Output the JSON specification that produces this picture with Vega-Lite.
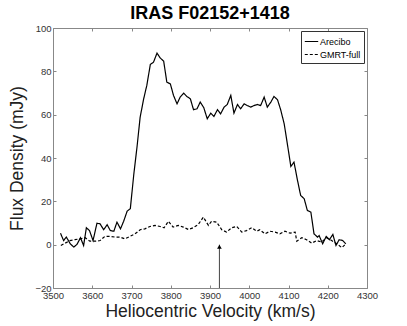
{
  "$schema": "https://vega.github.io/schema/vega-lite/v6.json",
  "autosize": {"type": "none"},
  "padding": {"left": 53, "top": 28, "right": 40, "bottom": 38},
  "width": 314,
  "height": 260,
  "title": {"text": "IRAS F02152+1418", "font": "Liberation Sans", "fontSize": 18, "fontWeight": "bold", "color": "#000", "anchor": "middle", "offset": 0},
  "config": {
    "view": {"stroke": null},
    "axis": {"grid": false, "domainColor": "#888", "tickColor": "#888", "labelColor": "#333", "labelFont": "Liberation Sans", "labelFontSize": 9.5, "titleFont": "Liberation Sans", "titleFontWeight": "normal", "titleColor": "#222", "titleFontSize": 17.5, "tickSize": -3, "domainWidth": 1, "tickWidth": 1, "labelFlush": false}
  },
  "datasets": {
    "spec": [
      {"v": 3519, "flux": 5.3, "src": "Arecibo"},
      {"v": 3527, "flux": 1.9, "src": "Arecibo"},
      {"v": 3534, "flux": 3.5, "src": "Arecibo"},
      {"v": 3544, "flux": 0.4, "src": "Arecibo"},
      {"v": 3553, "flux": -1.1, "src": "Arecibo"},
      {"v": 3561, "flux": 0.1, "src": "Arecibo"},
      {"v": 3570, "flux": 3.2, "src": "Arecibo"},
      {"v": 3578, "flux": -0.4, "src": "Arecibo"},
      {"v": 3585, "flux": 7.8, "src": "Arecibo"},
      {"v": 3593, "flux": 6.5, "src": "Arecibo"},
      {"v": 3602, "flux": 1.9, "src": "Arecibo"},
      {"v": 3612, "flux": 9.9, "src": "Arecibo"},
      {"v": 3620, "flux": 9.6, "src": "Arecibo"},
      {"v": 3629, "flux": 6.9, "src": "Arecibo"},
      {"v": 3638, "flux": 9.2, "src": "Arecibo"},
      {"v": 3646, "flux": 6.5, "src": "Arecibo"},
      {"v": 3655, "flux": 6.2, "src": "Arecibo"},
      {"v": 3663, "flux": 10.4, "src": "Arecibo"},
      {"v": 3672, "flux": 7.3, "src": "Arecibo"},
      {"v": 3680, "flux": 10.8, "src": "Arecibo"},
      {"v": 3689, "flux": 15.5, "src": "Arecibo"},
      {"v": 3697, "flux": 16.6, "src": "Arecibo"},
      {"v": 3706, "flux": 32.7, "src": "Arecibo"},
      {"v": 3714, "flux": 45, "src": "Arecibo"},
      {"v": 3722, "flux": 58.8, "src": "Arecibo"},
      {"v": 3731, "flux": 67.3, "src": "Arecibo"},
      {"v": 3739, "flux": 73.5, "src": "Arecibo"},
      {"v": 3748, "flux": 83.2, "src": "Arecibo"},
      {"v": 3756, "flux": 84.2, "src": "Arecibo"},
      {"v": 3765, "flux": 88.4, "src": "Arecibo"},
      {"v": 3773, "flux": 86.2, "src": "Arecibo"},
      {"v": 3782, "flux": 84.7, "src": "Arecibo"},
      {"v": 3790, "flux": 75, "src": "Arecibo"},
      {"v": 3799, "flux": 74.2, "src": "Arecibo"},
      {"v": 3807, "flux": 68.9, "src": "Arecibo"},
      {"v": 3816, "flux": 65, "src": "Arecibo"},
      {"v": 3824, "flux": 68.1, "src": "Arecibo"},
      {"v": 3833, "flux": 69.9, "src": "Arecibo"},
      {"v": 3841, "flux": 68.4, "src": "Arecibo"},
      {"v": 3850, "flux": 67.3, "src": "Arecibo"},
      {"v": 3858, "flux": 62.3, "src": "Arecibo"},
      {"v": 3867, "flux": 62.7, "src": "Arecibo"},
      {"v": 3875, "flux": 65.8, "src": "Arecibo"},
      {"v": 3884, "flux": 63.3, "src": "Arecibo"},
      {"v": 3893, "flux": 58.1, "src": "Arecibo"},
      {"v": 3902, "flux": 60.7, "src": "Arecibo"},
      {"v": 3910, "flux": 59.2, "src": "Arecibo"},
      {"v": 3919, "flux": 62.3, "src": "Arecibo"},
      {"v": 3927, "flux": 60.4, "src": "Arecibo"},
      {"v": 3936, "flux": 63.5, "src": "Arecibo"},
      {"v": 3944, "flux": 64.7, "src": "Arecibo"},
      {"v": 3953, "flux": 68.9, "src": "Arecibo"},
      {"v": 3961, "flux": 60.7, "src": "Arecibo"},
      {"v": 3970, "flux": 64.7, "src": "Arecibo"},
      {"v": 3978, "flux": 62.7, "src": "Arecibo"},
      {"v": 3987, "flux": 65, "src": "Arecibo"},
      {"v": 3995, "flux": 64.2, "src": "Arecibo"},
      {"v": 4004, "flux": 63.5, "src": "Arecibo"},
      {"v": 4012, "flux": 64.2, "src": "Arecibo"},
      {"v": 4021, "flux": 64.7, "src": "Arecibo"},
      {"v": 4029, "flux": 64.2, "src": "Arecibo"},
      {"v": 4038, "flux": 68.1, "src": "Arecibo"},
      {"v": 4046, "flux": 63.5, "src": "Arecibo"},
      {"v": 4055, "flux": 65.8, "src": "Arecibo"},
      {"v": 4063, "flux": 68.4, "src": "Arecibo"},
      {"v": 4072, "flux": 66.9, "src": "Arecibo"},
      {"v": 4080, "flux": 62.3, "src": "Arecibo"},
      {"v": 4089, "flux": 55.8, "src": "Arecibo"},
      {"v": 4097, "flux": 46.6, "src": "Arecibo"},
      {"v": 4106, "flux": 36.1, "src": "Arecibo"},
      {"v": 4114, "flux": 38.1, "src": "Arecibo"},
      {"v": 4123, "flux": 29.6, "src": "Arecibo"},
      {"v": 4131, "flux": 22.7, "src": "Arecibo"},
      {"v": 4140, "flux": 21.2, "src": "Arecibo"},
      {"v": 4148, "flux": 15.8, "src": "Arecibo"},
      {"v": 4157, "flux": 15, "src": "Arecibo"},
      {"v": 4165, "flux": 5, "src": "Arecibo"},
      {"v": 4174, "flux": 3.5, "src": "Arecibo"},
      {"v": 4178, "flux": 4.2, "src": "Arecibo"},
      {"v": 4187, "flux": 0.4, "src": "Arecibo"},
      {"v": 4196, "flux": 3.8, "src": "Arecibo"},
      {"v": 4204, "flux": 2.3, "src": "Arecibo"},
      {"v": 4213, "flux": 4.7, "src": "Arecibo"},
      {"v": 4221, "flux": -0.4, "src": "Arecibo"},
      {"v": 4229, "flux": 2.3, "src": "Arecibo"},
      {"v": 4238, "flux": 1.9, "src": "Arecibo"},
      {"v": 4246, "flux": 0.4, "src": "Arecibo"},
      {"v": 3520, "flux": -0.4, "src": "GMRT-full"},
      {"v": 3531, "flux": 0.7, "src": "GMRT-full"},
      {"v": 3543, "flux": 1.9, "src": "GMRT-full"},
      {"v": 3556, "flux": 2.3, "src": "GMRT-full"},
      {"v": 3569, "flux": 2.7, "src": "GMRT-full"},
      {"v": 3582, "flux": 3.2, "src": "GMRT-full"},
      {"v": 3594, "flux": 1.6, "src": "GMRT-full"},
      {"v": 3607, "flux": 1.6, "src": "GMRT-full"},
      {"v": 3620, "flux": 1.9, "src": "GMRT-full"},
      {"v": 3632, "flux": 3.8, "src": "GMRT-full"},
      {"v": 3645, "flux": 3.8, "src": "GMRT-full"},
      {"v": 3658, "flux": 3.5, "src": "GMRT-full"},
      {"v": 3671, "flux": 3.5, "src": "GMRT-full"},
      {"v": 3683, "flux": 2.7, "src": "GMRT-full"},
      {"v": 3696, "flux": 3.8, "src": "GMRT-full"},
      {"v": 3709, "flux": 5, "src": "GMRT-full"},
      {"v": 3722, "flux": 6.9, "src": "GMRT-full"},
      {"v": 3734, "flux": 7.3, "src": "GMRT-full"},
      {"v": 3747, "flux": 8.4, "src": "GMRT-full"},
      {"v": 3760, "flux": 8.9, "src": "GMRT-full"},
      {"v": 3773, "flux": 8.4, "src": "GMRT-full"},
      {"v": 3783, "flux": 7.8, "src": "GMRT-full"},
      {"v": 3794, "flux": 10.8, "src": "GMRT-full"},
      {"v": 3806, "flux": 8.1, "src": "GMRT-full"},
      {"v": 3819, "flux": 8.9, "src": "GMRT-full"},
      {"v": 3832, "flux": 8.1, "src": "GMRT-full"},
      {"v": 3845, "flux": 7, "src": "GMRT-full"},
      {"v": 3857, "flux": 7.8, "src": "GMRT-full"},
      {"v": 3870, "flux": 9.3, "src": "GMRT-full"},
      {"v": 3883, "flux": 12.7, "src": "GMRT-full"},
      {"v": 3896, "flux": 8.9, "src": "GMRT-full"},
      {"v": 3904, "flux": 10.8, "src": "GMRT-full"},
      {"v": 3917, "flux": 10.4, "src": "GMRT-full"},
      {"v": 3930, "flux": 6.9, "src": "GMRT-full"},
      {"v": 3942, "flux": 5.8, "src": "GMRT-full"},
      {"v": 3955, "flux": 7.8, "src": "GMRT-full"},
      {"v": 3968, "flux": 8.4, "src": "GMRT-full"},
      {"v": 3981, "flux": 5.8, "src": "GMRT-full"},
      {"v": 3993, "flux": 6.5, "src": "GMRT-full"},
      {"v": 4006, "flux": 7.8, "src": "GMRT-full"},
      {"v": 4019, "flux": 6.2, "src": "GMRT-full"},
      {"v": 4027, "flux": 6.9, "src": "GMRT-full"},
      {"v": 4040, "flux": 5, "src": "GMRT-full"},
      {"v": 4053, "flux": 6.2, "src": "GMRT-full"},
      {"v": 4066, "flux": 5.8, "src": "GMRT-full"},
      {"v": 4078, "flux": 5, "src": "GMRT-full"},
      {"v": 4091, "flux": 6.2, "src": "GMRT-full"},
      {"v": 4104, "flux": 5.3, "src": "GMRT-full"},
      {"v": 4117, "flux": 5.8, "src": "GMRT-full"},
      {"v": 4121, "flux": 1.6, "src": "GMRT-full"},
      {"v": 4134, "flux": 3.2, "src": "GMRT-full"},
      {"v": 4146, "flux": 2.3, "src": "GMRT-full"},
      {"v": 4159, "flux": 0.7, "src": "GMRT-full"},
      {"v": 4172, "flux": 1.9, "src": "GMRT-full"},
      {"v": 4184, "flux": 1.2, "src": "GMRT-full"},
      {"v": 4197, "flux": 3.2, "src": "GMRT-full"},
      {"v": 4210, "flux": 1.9, "src": "GMRT-full"},
      {"v": 4223, "flux": 0.4, "src": "GMRT-full"},
      {"v": 4236, "flux": -1.4, "src": "GMRT-full"},
      {"v": 4246, "flux": 0.4, "src": "GMRT-full"}
    ],
    "arrow": [
      {"v": 3924, "y1": -20, "y2": 0}
    ]
  },
  "layer": [
    {
      "data": {"name": "spec"},
      "mark": {"type": "line", "color": "#000", "strokeWidth": 1.2},
      "encoding": {
        "x": {"field": "v", "type": "quantitative", "scale": {"domain": [3500, 4300], "nice": false}, "axis": {"title": "Heliocentric Velocity (km/s)", "values": [3500, 3600, 3700, 3800, 3900, 4000, 4100, 4200, 4300], "format": "d", "labelPadding": 5, "titlePadding": 3}},
        "y": {"field": "flux", "type": "quantitative", "scale": {"domain": [-20, 100], "nice": false}, "axis": {"title": "Flux Density (mJy)", "values": [-20, 0, 20, 40, 60, 80, 100], "labelPadding": 5, "titlePadding": 8}},
        "strokeDash": {"field": "src", "type": "nominal", "scale": {"domain": ["Arecibo", "GMRT-full"], "range": [[1, 0], [3, 2]]}, "legend": {"title": null, "orient": "top-right", "offset": 3, "strokeColor": "#333", "fillColor": "#fff", "padding": 3, "labelFont": "Liberation Sans", "labelFontSize": 9, "labelColor": "#000", "symbolType": "stroke", "symbolStrokeColor": "#000", "symbolStrokeWidth": 1.2, "symbolSize": 180, "rowPadding": 0, "labelOffset": 1}}
      }
    },
    {
      "data": {"name": "arrow"},
      "mark": {"type": "rule", "color": "#444", "strokeWidth": 1},
      "encoding": {
        "x": {"field": "v", "type": "quantitative", "axis": null},
        "y": {"field": "y1", "type": "quantitative", "axis": null},
        "y2": {"field": "y2"}
      }
    },
    {
      "data": {"name": "arrow"},
      "mark": {"type": "point", "shape": "triangle-up", "filled": true, "color": "#000", "size": 22, "opacity": 1, "yOffset": 2},
      "encoding": {
        "x": {"field": "v", "type": "quantitative", "axis": null},
        "y": {"field": "y2", "type": "quantitative", "axis": null}
      }
    },
    {
      "data": {"name": "arrow"},
      "mark": {"type": "point", "opacity": 0},
      "encoding": {
        "x": {"field": "v", "type": "quantitative", "axis": {"orient": "top", "title": null, "labels": false, "values": [3500, 3600, 3700, 3800, 3900, 4000, 4100, 4200, 4300]}},
        "y": {"field": "y2", "type": "quantitative", "axis": {"orient": "right", "title": null, "labels": false, "values": [-20, 0, 20, 40, 60, 80, 100]}}
      }
    }
  ],
  "resolve": {"axis": {"x": "independent", "y": "independent"}}
}
